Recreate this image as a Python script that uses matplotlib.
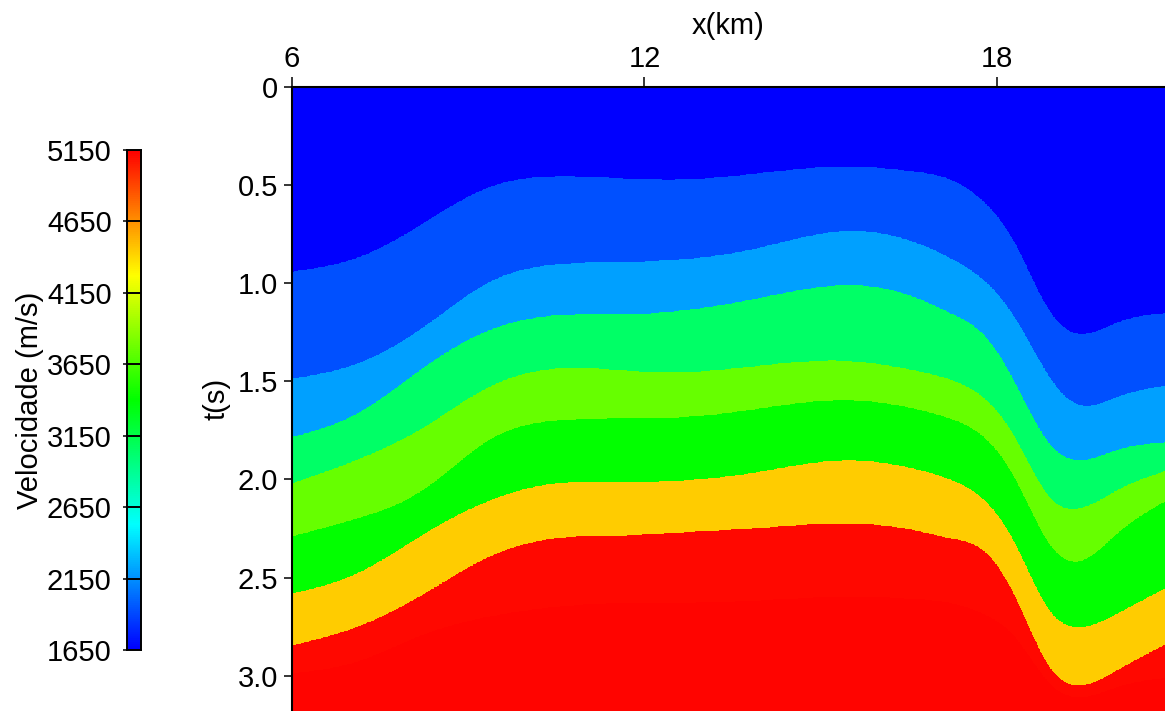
import numpy as np
import matplotlib
matplotlib.use("Agg")
import matplotlib.pyplot as plt
from matplotlib.colors import LinearSegmentedColormap

plt.rcParams["font.family"] = ["Liberation Sans", "DejaVu Sans"]

# Lateral positions (km) where each horizon time was picked
x_nodes = [6.0, 7.1, 8.25, 9.35, 10.5, 11.65, 12.7, 13.75, 15.45, 16.6,
           17.2, 17.8, 18.3, 18.9, 19.35, 20.05, 20.9]

# Two-way time (s) of each interface, top to bottom
horizon_1 = [0.94, 0.87, 0.69, 0.51, 0.455, 0.465, 0.47, 0.445, 0.405, 0.43,
             0.47, 0.59, 0.79, 1.14, 1.255, 1.20, 1.15]
horizon_2 = [1.486, 1.41, 1.22, 0.995, 0.903, 0.891, 0.876, 0.832, 0.733, 0.79,
             0.87, 0.99, 1.17, 1.478, 1.613, 1.58, 1.52]
horizon_3 = [1.784, 1.665, 1.427, 1.24, 1.163, 1.158, 1.136, 1.087, 1.01, 1.07,
             1.15, 1.27, 1.50, 1.818, 1.90, 1.85, 1.81]
horizon_4 = [2.02, 1.90, 1.733, 1.529, 1.435, 1.444, 1.452, 1.427, 1.396, 1.444,
             1.49, 1.59, 1.78, 2.09, 2.15, 2.056, 1.954]
horizon_5 = [2.29, 2.20, 2.05, 1.80, 1.70, 1.69, 1.682, 1.648, 1.597, 1.64,
             1.69, 1.79, 1.99, 2.33, 2.42, 2.277, 2.107]
horizon_6 = [2.583, 2.48, 2.277, 2.11, 2.02, 2.014, 2.005, 1.971, 1.903, 1.946,
             2.0, 2.11, 2.32, 2.668, 2.753, 2.685, 2.55]
horizon_7 = [2.847, 2.753, 2.583, 2.396, 2.30, 2.286, 2.269, 2.252, 2.226, 2.26,
             2.30, 2.37, 2.59, 2.957, 3.05, 2.974, 2.838]
horizon_8 = [2.99, 2.93, 2.79, 2.70, 2.65, 2.63, 2.63, 2.62, 2.60, 2.61,
             2.63, 2.69, 2.80, 3.04, 3.11, 3.06, 3.01]

# Interval velocity (m/s) of each layer, top to bottom
layer_velocity = [1650, 1925, 2200, 3050, 3750, 3400, 4440, 5115, 5130]

vel_min, vel_max = 1650, 5150
cbar_ticks = [1650, 2150, 2650, 3150, 3650, 4150, 4650, 5150]
x_ticks = [6, 12, 18]
t_ticks = [0, 0.5, 1.0, 1.5, 2.0, 2.5, 3.0]
t_tick_labels = ["0", "0.5", "1.0", "1.5", "2.0", "2.5", "3.0"]
x_range = (6.0, 20.86)
t_range = (0.0, 3.18)


def natural_spline(xk, yk, xq):
    """Natural cubic spline through the picked nodes."""
    xk = np.asarray(xk, float)
    yk = np.asarray(yk, float)
    n = len(xk)
    h = np.diff(xk)
    A = np.zeros((n, n))
    r = np.zeros(n)
    A[0, 0] = A[-1, -1] = 1.0
    for k in range(1, n - 1):
        A[k, k - 1] = h[k - 1]
        A[k, k] = 2 * (h[k - 1] + h[k])
        A[k, k + 1] = h[k]
        r[k] = 6 * ((yk[k + 1] - yk[k]) / h[k] - (yk[k] - yk[k - 1]) / h[k - 1])
    M = np.linalg.solve(A, r)
    i = np.clip(np.searchsorted(xk, xq) - 1, 0, n - 2)
    a = xk[i + 1] - xq
    b = xq - xk[i]
    hi = h[i]
    return (M[i] * a**3 / (6 * hi) + M[i + 1] * b**3 / (6 * hi)
            + (yk[i] / hi - M[i] * hi / 6) * a
            + (yk[i + 1] / hi - M[i + 1] * hi / 6) * b)


# Rainbow scale: blue -> cyan -> green -> yellow -> red
cmap = LinearSegmentedColormap.from_list(
    "velocity",
    [(0.0, (0, 0, 1)), (0.25, (0, 1, 1)), (0.5, (0, 1, 0)),
     (0.75, (1, 1, 0)), (1.0, (1, 0, 0))])

# Build the layered velocity section
xs = np.linspace(x_range[0], x_range[1], 1400)
ts = np.linspace(t_range[0], t_range[1], 1000)
T = ts[:, None]
model = np.full((ts.size, xs.size), float(layer_velocity[0]))
horizons = [horizon_1, horizon_2, horizon_3, horizon_4,
            horizon_5, horizon_6, horizon_7, horizon_8]
for k, hz in enumerate(horizons):
    depth = natural_spline(x_nodes, hz, xs)[None, :]
    model[T >= depth] = layer_velocity[k + 1]

W, H = 1165, 711
fig = plt.figure(figsize=(W / 100, H / 100), dpi=100)

ax = fig.add_axes([292 / W, 0, (W - 292) / W, (H - 87) / H])
ax.imshow(model, extent=[x_range[0], x_range[1], t_range[1], t_range[0]],
          cmap=cmap, vmin=vel_min, vmax=vel_max, aspect="auto",
          interpolation="nearest")
ax.set_xlim(*x_range)
ax.set_ylim(t_range[1], t_range[0])
ax.xaxis.tick_top()
ax.xaxis.set_label_position("top")
ax.set_xticks(x_ticks)
ax.set_xticklabels([str(v) for v in x_ticks])
ax.set_yticks(t_ticks)
ax.set_yticklabels(t_tick_labels)
ax.tick_params(axis="x", direction="out", length=7, width=1.1,
               labelsize=21, pad=3)
ax.tick_params(axis="y", direction="out", length=6, width=1.1,
               labelsize=21, pad=4)
for side in ("right", "bottom"):
    ax.spines[side].set_visible(False)
for side in ("top", "left"):
    ax.spines[side].set_linewidth(1.5)
ax.set_xlabel("x(km)", fontsize=21)
ax.xaxis.set_label_coords(0.5, 1.085)
ax.set_ylabel("t(s)", fontsize=21)
ax.yaxis.set_label_coords(-0.071, 0.5)

# Colour bar
cax = fig.add_axes([127 / W, (H - 650) / H, 14 / W, 500 / H])
grad = np.linspace(vel_min, vel_max, 512)[:, None]
cax.imshow(grad, extent=[0, 1, vel_min, vel_max], origin="lower",
           cmap=cmap, vmin=vel_min, vmax=vel_max, aspect="auto")
cax.set_xlim(0, 1)
cax.set_ylim(vel_min, vel_max)
cax.set_xticks([])
cax.set_yticks(cbar_ticks)
cax.set_yticklabels([str(v) for v in cbar_ticks])
cax.tick_params(axis="y", direction="out", length=3, width=1.1,
                labelsize=21, pad=8)
for v in cbar_ticks[1:-1]:
    cax.axhline(v, color="black", lw=1.4)
for sp in cax.spines.values():
    sp.set_linewidth(1.4)
fig.text(30 / W, 1 - 400 / H, "Velocidade (m/s)", rotation=90,
         ha="center", va="center", fontsize=21)

fig.savefig("out.png", dpi=100)
